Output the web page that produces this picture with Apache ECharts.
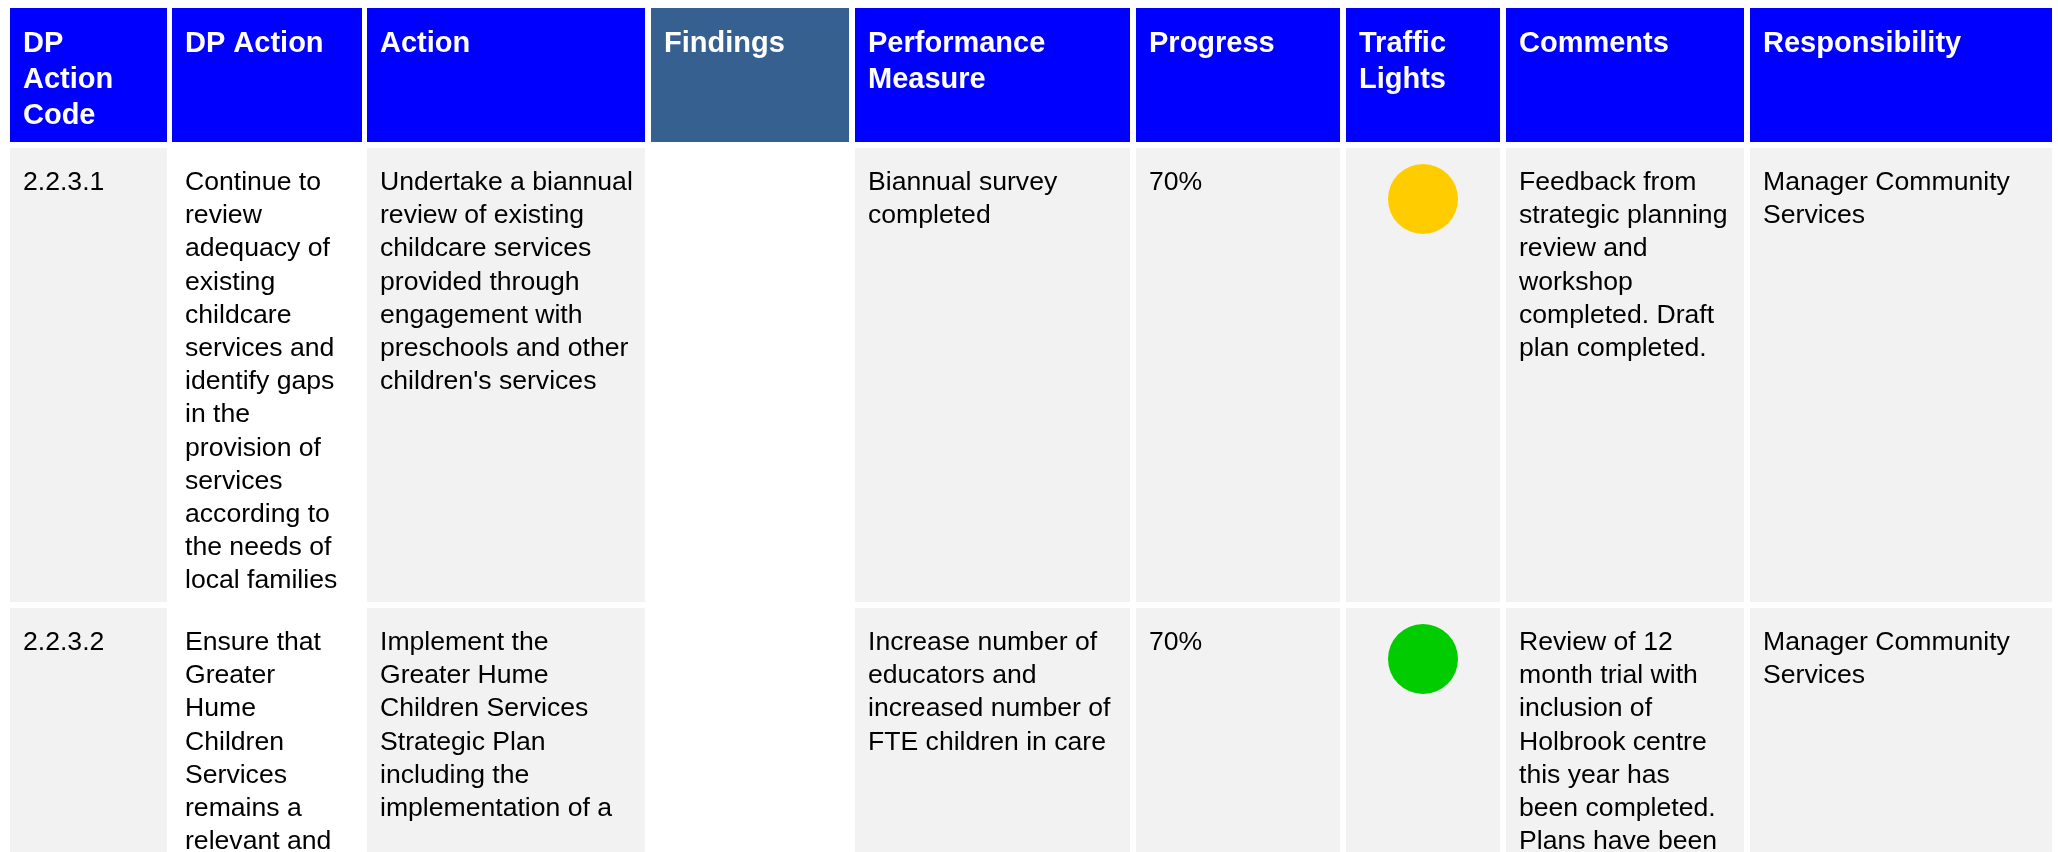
<!DOCTYPE html>
<html>
<head>
<meta charset="utf-8">
<script src="https://cdn.jsdelivr.net/npm/echarts@6/dist/echarts.min.js"></script>
<style>html,body{margin:0;padding:0;background:#fff;}#c{width:2058px;height:852px;}</style>
</head>
<body>
<div id="c"></div>
<script>
// ---- table content ----
const headers = ['DP\nAction\nCode', 'DP Action', 'Action', 'Findings', 'Performance\nMeasure', 'Progress', 'Traffic\nLights', 'Comments', 'Responsibility'];
const codes = ['2.2.3.1', '2.2.3.2'];
const dpActions = [
  'Continue to\nreview\nadequacy of\nexisting\nchildcare\nservices and\nidentify gaps\nin the\nprovision of\nservices\naccording to\nthe needs of\nlocal families',
  'Ensure that\nGreater\nHume\nChildren\nServices\nremains a\nrelevant and'
];
const actions = [
  'Undertake a biannual\nreview of existing\nchildcare services\nprovided through\nengagement with\npreschools and other\nchildren\'s services',
  'Implement the\nGreater Hume\nChildren Services\nStrategic Plan\nincluding the\nimplementation of a'
];
const findings = ['', ''];
const measures = [
  'Biannual survey\ncompleted',
  'Increase number of\neducators and\nincreased number of\nFTE children in care'
];
const progress = [70, 70];
const lights = ['amber', 'green'];
const comments = [
  'Feedback from\nstrategic planning\nreview and\nworkshop\ncompleted. Draft\nplan completed.',
  'Review of 12\nmonth trial with\ninclusion of\nHolbrook centre\nthis year has\nbeen completed.\nPlans have been'
];
const responsibility = ['Manager Community\nServices', 'Manager Community\nServices'];

// ---- layout (positions on the hidden value axes) ----
const colEdges = [[10,167],[172,362],[367,645],[651,849],[855,1130],[1136,1340],[1346,1500],[1506,1744],[1750,2052]];
const rowEdges = [[8,142],[148,602],[608,1100]];
const whiteBodyCols = [1, 3];
const lightColors = {amber: '#FFCC00', green: '#00CC00', red: '#FF0000'};

function cellText(c, i) {
  switch (c) {
    case 0: return codes[i];
    case 1: return dpActions[i];
    case 2: return actions[i];
    case 3: return findings[i];
    case 4: return measures[i];
    case 5: return progress[i] + '%';
    case 6: return '';
    case 7: return comments[i];
    case 8: return responsibility[i];
  }
  return '';
}

const cells = [];
for (let r = 0; r <= codes.length; r++) {
  for (let c = 0; c < headers.length; c++) cells.push([c, r]);
}

const chart = echarts.init(document.getElementById('c'), null, {renderer: 'canvas'});
chart.setOption({
  animation: false,
  backgroundColor: '#ffffff',
  grid: {left: 0, right: 0, top: 0, bottom: 0},
  xAxis: {type: 'value', min: 0, max: 2058, show: false},
  yAxis: {type: 'value', min: 0, max: 852, inverse: true, show: false},
  series: [{
    type: 'custom',
    clip: false,
    data: cells,
    renderItem: function (params, api) {
      const c = api.value(0), r = api.value(1);
      const ce = colEdges[c], re = rowEdges[r];
      const p0 = api.coord([ce[0], re[0]]);
      const p1 = api.coord([ce[1], re[1]]);
      const w = p1[0] - p0[0], h = p1[1] - p0[1];
      const isHead = r === 0;
      let fill;
      if (isHead) fill = c === 3 ? '#366090' : '#0000FF';
      else fill = whiteBodyCols.indexOf(c) >= 0 ? '#FFFFFF' : '#F2F2F2';
      const children = [{
        type: 'rect',
        shape: {x: p0[0], y: p0[1], width: w, height: h},
        style: {fill: fill}
      }];
      const txt = isHead ? headers[c] : cellText(c, r - 1);
      if (txt) {
        children.push({
          type: 'text',
          x: p0[0] + 13,
          y: p0[1] + (isHead ? 18.3 : 18),
          style: {
            text: txt,
            fill: isHead ? '#FFFFFF' : '#000000',
            fontFamily: '"Liberation Sans", Arial, sans-serif',
            fontSize: isHead ? 29 : 26.6,
            fontWeight: isHead ? 'bold' : 'normal',
            lineHeight: isHead ? 36 : 33.2,
            align: 'left',
            verticalAlign: 'top'
          }
        });
      }
      if (!isHead && c === 6) {
        const light = lights[r - 1];
        children.push({
          type: 'circle',
          shape: {cx: p0[0] + w / 2, cy: p0[1] + 51, r: 35},
          style: {fill: lightColors[light]}
        });
      }
      return {type: 'group', children: children};
    }
  }]
});
</script>
</body>
</html>
